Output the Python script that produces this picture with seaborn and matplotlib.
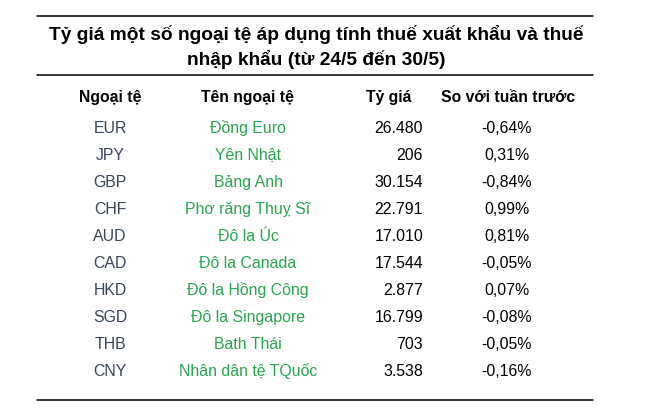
"""Bảng tỷ giá ngoại tệ tính thuế xuất nhập khẩu, vẽ bằng seaborn/matplotlib."""

import matplotlib
matplotlib.use('Agg')
import matplotlib.pyplot as plt
import seaborn as sns

# Dữ liệu bảng
title_lines = ['Tỷ giá một số ngoại tệ áp dụng tính thuế xuất khẩu và thuế',
               'nhập khẩu (từ 24/5 đến 30/5)']
headers = ['Ngoại tệ', 'Tên ngoại tệ', 'Tỷ giá', 'So với tuần trước']
codes = ['EUR', 'JPY', 'GBP', 'CHF', 'AUD', 'CAD', 'HKD', 'SGD', 'THB', 'CNY']
names = ['Đồng Euro', 'Yên Nhật', 'Bảng Anh', 'Phơ răng Thuỵ Sĩ', 'Đô la Úc',
         'Đô la Canada', 'Đô la Hồng Công', 'Đô la Singapore', 'Bath Thái',
         'Nhân dân tệ TQuốc']
rates = ['26.480', '206', '30.154', '22.791', '17.010', '17.544', '2.877',
         '16.799', '703', '3.538']
changes = ['-0,64%', '0,31%', '-0,84%', '0,99%', '0,81%', '-0,05%', '0,07%',
           '-0,08%', '-0,05%', '-0,16%']


def plot_rate_table(output='out.png'):
    sns.set_theme(style='white')
    plt.rcParams['font.family'] = ['Liberation Sans', 'DejaVu Sans']

    fig = plt.figure(figsize=(6.5, 4.19), dpi=100)
    ax = fig.add_axes([0, 0, 1, 1])
    ax.set_xlim(0, 650)
    ax.set_ylim(419, 0)
    ax.axis('off')

    # Đường kẻ ngang
    for y in [16, 75, 400]:
        sns.lineplot(x=[37, 593], y=[y, y], color='black', lw=1.1, ax=ax)

    # Tiêu đề
    for i, line in enumerate(title_lines):
        ax.text(316, 40 + 25 * i, line, ha='center', va='baseline',
                fontsize=13.8, fontweight='bold', color='black')

    # Tiêu đề cột
    col_x = [110, 247, 389, 508]
    for x, h in zip(col_x, headers):
        ax.text(x, 102, h, ha='center', va='baseline', fontsize=11.3,
                fontweight='bold', color='black')

    # Các dòng
    for i in range(len(codes)):
        y = 133 + 27 * i
        ax.text(110, y, codes[i], ha='center', va='baseline', fontsize=11.4,
                color='#3a4556')
        ax.text(248, y, names[i], ha='center', va='baseline', fontsize=11.4,
                color='#2aa44f')
        ax.text(423, y, rates[i], ha='right', va='baseline', fontsize=11.4,
                color='black')
        ax.text(507, y, changes[i], ha='center', va='baseline', fontsize=11.4,
                color='black')

    fig.savefig(output, dpi=100, facecolor='white')
    plt.close(fig)


if __name__ == '__main__':
    plot_rate_table()
